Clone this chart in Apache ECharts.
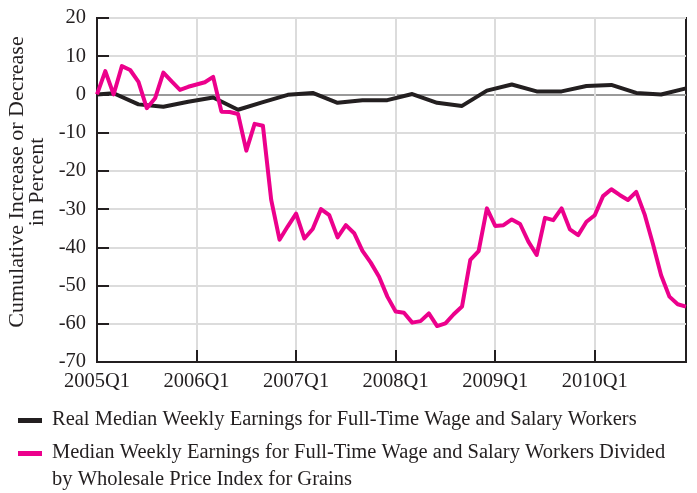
<!DOCTYPE html>
<html>
<head>
<meta charset="utf-8">
<script src="https://cdn.jsdelivr.net/npm/echarts@6/dist/echarts.min.js"></script>
<style>
  html, body { margin: 0; padding: 0; background: #fff; }
  #chart { width: 697px; height: 493px; }
</style>
</head>
<body>
<div id="chart"></div>
<script>
// monthly categories, Jan 2005 .. Dec 2010
const years = ['2005', '2006', '2007', '2008', '2009', '2010'];
const yTicks = [-70, -60, -50, -40, -30, -20, -10, 0, 10, 20];

// Real median weekly earnings (quarterly points, by month index)
const realAt = [0, 2, 5, 8, 11, 14, 17, 20, 23, 26, 29, 32, 35, 38, 41, 44, 47, 50, 53, 56, 59, 62, 65, 68, 71];
const realValues = [0, 0.3, -2.6, -3.2, -1.9, -0.8, -4, -2, -0.1, 0.4, -2.2, -1.5, -1.5, 0.1, -2.2, -3, 1, 2.6, 0.8, 0.8, 2.2, 2.5, 0.4, 0, 1.6];

// Earnings divided by wholesale grain price index (monthly)
const grainValues = [
  0, 6.1, 0, 7.4, 6.4, 3.3, -3.6, -1, 5.7, 3.4, 1.2, 2.0,
  2.6, 3.2, 4.6, -4.5, -4.6, -5.1, -14.7, -7.7, -8.2, -27.6, -38, -34.5,
  -31.2, -37.7, -35.2, -30, -31.6, -37.4, -34.2, -36.3, -40.9, -44, -47.7, -52.9,
  -56.8, -57.1, -59.7, -59.3, -57.3, -60.6, -59.9, -57.5, -55.5, -43.3, -41, -29.8,
  -34.4, -34.2, -32.7, -33.9, -38.5, -42, -32.3, -32.9, -29.8, -35.3, -36.8, -33.3,
  -31.6, -26.6, -24.8, -26.3, -27.6, -25.5, -31.3, -39, -47.3, -52.9, -54.9, -55.5
];

const seriesNames = [
  'Real Median Weekly Earnings for Full-Time Wage and Salary Workers',
  'Median Weekly Earnings for Full-Time Wage and Salary Workers Divided',
  'by Wholesale Price Index for Grains'
];

const FONT = '"Liberation Serif", "DejaVu Serif", serif';
const FS = 20.5;
const INK = '#231f20';
const PINK = '#ec008c';

let months = [];
years.forEach(function (y) {
  for (let m = 1; m <= 12; m++) months.push(y + '-' + m);
});

let realData = months.map(function () { return null; });
realAt.forEach(function (idx, i) { realData[idx] = realValues[i]; });

const isYearStart = function (idx) { return idx % 12 === 0; };

const myChart = echarts.init(document.getElementById('chart'));
myChart.setOption({
  animation: false,
  grid: {
    left: 97,
    right: 11,
    top: 18,
    bottom: 131,
    outerBoundsMode: 'none',
    containLabel: false,
    show: true,
    borderColor: INK,
    borderWidth: 2
  },
  xAxis: {
    type: 'category',
    data: months,
    boundaryGap: false,
    axisLine: { onZero: false, lineStyle: { color: INK, width: 2 } },
    axisTick: { inside: true, length: 12, interval: isYearStart, lineStyle: { color: INK, width: 2 } },
    axisLabel: {
      interval: isYearStart,
      margin: 9,
      color: INK,
      fontFamily: FONT,
      fontSize: FS,
      formatter: function (v) { return v.split('-')[0] + 'Q1'; }
    },
    splitLine: { show: true, interval: isYearStart, lineStyle: { color: '#dcdcdc', width: 2 } }
  },
  yAxis: {
    type: 'value',
    min: yTicks[0],
    max: yTicks[yTicks.length - 1],
    interval: 10,
    name: 'Cumulative Increase or Decrease\nin Percent',
    nameLocation: 'middle',
    nameGap: 47,
    nameTextStyle: { color: INK, fontFamily: FONT, fontSize: 22, lineHeight: 20, padding: [0, 0, 0, 16] },
    axisLine: { show: true, lineStyle: { color: INK, width: 2 } },
    axisTick: { show: true, inside: true, length: 12, lineStyle: { color: INK, width: 2 } },
    axisLabel: { margin: 11, color: INK, fontFamily: FONT, fontSize: FS },
    splitLine: {
      lineStyle: {
        color: yTicks.map(function (t) { return t === 0 ? '#9a9a9a' : '#dcdcdc'; }),
        width: 2
      }
    }
  },
  series: [
    {
      name: seriesNames[0],
      type: 'line',
      data: realData,
      connectNulls: true,
      showSymbol: false,
      z: 3,
      lineStyle: { color: INK, width: 4, join: 'round' },
      itemStyle: { color: INK }
    },
    {
      name: seriesNames[1],
      type: 'line',
      data: grainValues,
      showSymbol: false,
      z: 4,
      lineStyle: { color: PINK, width: 4, join: 'round' },
      itemStyle: { color: PINK }
    }
  ],
  graphic: [
    { type: 'rect', left: 18, top: 418, shape: { width: 24, height: 5 }, style: { fill: INK } },
    { type: 'text', left: 52, top: 409, style: { text: seriesNames[0], fill: INK, font: FS + 'px ' + FONT } },
    { type: 'rect', left: 18, top: 451, shape: { width: 24, height: 5 }, style: { fill: PINK } },
    { type: 'text', left: 52, top: 442, style: { text: seriesNames[1], fill: INK, font: FS + 'px ' + FONT } },
    { type: 'text', left: 52, top: 469, style: { text: seriesNames[2], fill: INK, font: FS + 'px ' + FONT } }
  ]
});
</script>
</body>
</html>
